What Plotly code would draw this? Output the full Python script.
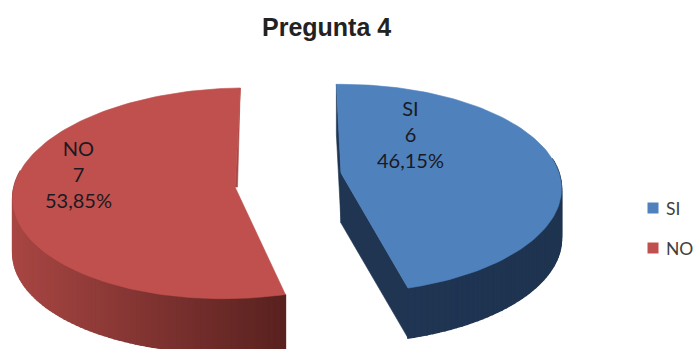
import math
import plotly.graph_objects as go

TITLE = "Pregunta 4"
categories = ["SI", "NO"]
values = [6, 7]
top_colors = ["#4F81BD", "#C0504D"]
side_left = [(31, 53, 84), (168, 70, 67)]
side_right = [(30, 52, 80), (88, 33, 31)]
inner_colors = ["#1F3552", "#A84845"]

START_DEG = -1.4
# projection of each exploded slice: apex, radii, perspective, skew, thickness
proj = [
    dict(cx=341, cy=173, a=218, b=102, k=0.15, g=0, depth=50),
    dict(cx=235, cy=187, a=221, b=105, k=0.06, g=11, depth=54),
]
label_pos = [(410, 134), (78, 174)]
legend_pos = [(653, 208), (653, 248)]
FONT = "Lato, Carlito, sans-serif"


def project(p, deg):
    t = math.radians(deg)
    u, v = math.sin(t), math.cos(t)
    s = 1 / (1 + p["k"] * v)
    return p["cx"] + p["a"] * u * s + p["g"] * v * s, p["cy"] - p["b"] * v * s


def mix(c1, c2, t):
    t = max(0, min(1, t))
    return "rgb(%d,%d,%d)" % tuple(round(x + (y - x) * t) for x, y in zip(c1, c2))


def poly(xs, ys, color, name=None, width=0.6):
    return go.Scatter(x=xs, y=ys, mode="lines", fill="toself", fillcolor=color,
                      line=dict(color=color, width=width), hoverinfo="skip",
                      showlegend=False, name=name)


fig = go.Figure()
total = sum(values)
start = START_DEG
for i, (cat, val) in enumerate(zip(categories, values)):
    p = proj[i]
    sweep = 360 * val / total
    n = max(int(sweep / 1.5), 2)
    degs = [start + sweep * j / n for j in range(n + 1)]
    pts = [project(p, d) for d in degs]
    d = p["depth"]
    xmin, xmax = min(q[0] for q in pts), max(q[0] for q in pts)
    # outer wall: only the front part of the rim can be seen
    for j in range(len(pts) - 1):
        if math.cos(math.radians(degs[j])) > 0.15:
            continue
        a_, b_ = pts[j], pts[j + 1]
        t = (0.5 * (a_[0] + b_[0]) - xmin) / (xmax - xmin)
        fig.add_trace(poly([a_[0], b_[0], b_[0], a_[0], a_[0]],
                           [a_[1], b_[1], b_[1] + d, a_[1] + d, a_[1]],
                           mix(side_left[i], side_right[i], t), width=1.5))
    apex = (p["cx"], p["cy"])
    # cut walls
    if i == 0:
        for e in (pts[0], pts[-1]):
            fig.add_trace(poly([apex[0], e[0], e[0], apex[0], apex[0]],
                               [apex[1], e[1], e[1] + d, apex[1] + d, apex[1]],
                               inner_colors[i]))
    else:
        e = pts[-1]
        fig.add_trace(poly([e[0], apex[0] + 2.5, apex[0], e[0]],
                           [e[1], apex[1], apex[1], e[1]], inner_colors[i]))
    # top face
    fig.add_trace(poly([apex[0]] + [q[0] for q in pts] + [apex[0]],
                       [apex[1]] + [q[1] for q in pts] + [apex[1]],
                       top_colors[i], name=cat))
    pct = f"{100 * val / total:.2f}".replace(".", ",")
    fig.add_annotation(x=label_pos[i][0], y=label_pos[i][1], xref="x", yref="y",
                       text=f"{cat}<br>{val}<br>{pct}%", showarrow=False,
                       font=dict(family=FONT, size=20, color="#1a1a22"), align="center")
    # legend key and label
    fig.add_trace(go.Scatter(x=[legend_pos[i][0]], y=[legend_pos[i][1]], mode="markers",
                             marker=dict(symbol="square", size=11, color=top_colors[i]),
                             hoverinfo="skip", showlegend=False, name=cat))
    fig.add_annotation(x=legend_pos[i][0] + 11, y=legend_pos[i][1], xref="x", yref="y",
                       text=cat, showarrow=False, xanchor="left",
                       font=dict(family=FONT, size=17.5, color="#404040"))
    start += sweep

fig.add_annotation(x=326, y=27, xref="x", yref="y", text=TITLE, showarrow=False,
                   font=dict(family="Liberation Sans, Arial, sans-serif", size=25, color="#222222",
                             weight="bold"))

fig.update_layout(
    width=695, height=349, margin=dict(l=0, r=0, t=0, b=0),
    paper_bgcolor="white", plot_bgcolor="white", showlegend=False,
    xaxis=dict(range=[0, 695], visible=False, fixedrange=True),
    yaxis=dict(range=[349, 0], visible=False, fixedrange=True),
)
fig.write_html("out.html", config={"displayModeBar": False},
               post_script="document.body.style.margin='0';document.body.style.overflow='hidden';")
